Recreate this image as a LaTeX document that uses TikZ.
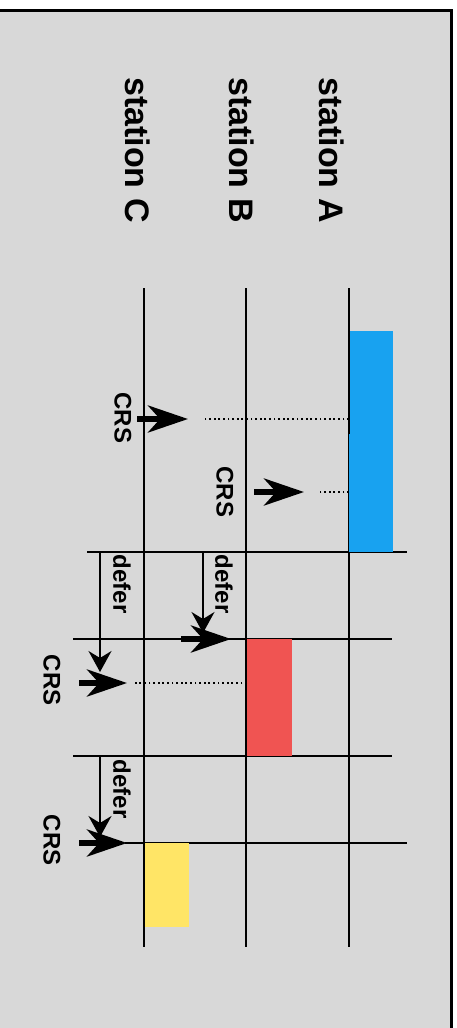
\documentclass[tikz,border=0pt]{standalone}
\usepackage{fontspec}
\setmainfont{Liberation Sans}
\usetikzlibrary{arrows.meta}
\definecolor{panel}{HTML}{D8D8D8}
\definecolor{txblue}{HTML}{18A2F0}
\definecolor{txred}{HTML}{F05452}
\definecolor{txyellow}{HTML}{FFE566}

\begin{document}
\begin{tikzpicture}[x=1pt,y=-1pt,
  lane/.style={line width=2.2pt},
  slot/.style={line width=2.2pt},
  sense/.style={line width=2pt, dash pattern=on 1.8pt off 2.8pt},
  crs/.style={line width=5.5pt, -{Stealth[length=40pt,width=27pt,inset=12pt]}},
  wait/.style={line width=1.8pt, -{Stealth[length=21pt,width=23pt,inset=7pt]}},
  stname/.style={font=\bfseries\fontsize{34}{34}\selectfont, rotate=-90, inner sep=0pt},
  tag/.style={font=\bfseries\fontsize{24}{24}\selectfont, rotate=-90, inner sep=0pt},
]
\clip (0,0) rectangle (457,1028);
\fill[white] (0,0) rectangle (457,1028);
% panel
\filldraw[fill=panel, draw=black, line width=3pt] (-10,10) rectangle (451,1040);

% station labels
\node[stname] (labA) at (332,150) {station A};
\node[stname] (labB) at (242,150) {station B};
\node[stname] (labC) at (138,150) {station C};

% station time lines
\coordinate (Atop) at (349,288); \coordinate (Abot) at (349,947);
\coordinate (Btop) at (246,288); \coordinate (Bbot) at (246,947);
\coordinate (Ctop) at (144,288); \coordinate (Cbot) at (144,947);
\draw[lane] (Atop) -- (Abot);
\draw[lane] (Btop) -- (Bbot);
\draw[lane] (Ctop) -- (Cbot);

% slot boundaries
\coordinate (s1l) at (87,552);  \coordinate (s1r) at (407,552);
\coordinate (s2l) at (73,639);  \coordinate (s2r) at (392,639);
\coordinate (s3l) at (73,756);  \coordinate (s3r) at (392,756);
\coordinate (s4l) at (125,843); \coordinate (s4r) at (407,843);
\draw[slot] (s1l) -- (s1r);
\draw[slot] (s2l) -- (s2r);
\draw[slot] (s3l) -- (s3r);
\draw[slot] (s4l) -- (s4r);

% transmissions
\fill[txblue] (349,331) rectangle (393,552);
\fill[txred] (247,639) rectangle (292,756);
\fill[txyellow] (145,843) rectangle (189,927);
\coordinate (Amid) at (349,434);
\draw[lane] (Atop) -- (Amid);

% carrier sense from A
\coordinate (dA1) at (349,419); \coordinate (dA1e) at (202,419);
\coordinate (dA2) at (349,492); \coordinate (dA2e) at (318,492);
\draw[sense] (dA1) -- (dA1e);
\draw[sense] (dA2) -- (dA2e);
\coordinate (c1s) at (137,419); \coordinate (c1e) at (188,419);
\coordinate (c2s) at (254,492); \coordinate (c2e) at (304,492);
\draw[crs] (c1s) -- (c1e);
\draw[crs] (c2s) -- (c2e);
\node[tag] (crs1) at (123,418) {CRS};
\node[tag] (crs2) at (225,492) {CRS};

% deferrals
\coordinate (w1s) at (100,552); \coordinate (w1e) at (100,672);
\coordinate (w2s) at (203,552); \coordinate (w2e) at (203,633);
\coordinate (w3s) at (100,756); \coordinate (w3e) at (100,837);
\draw[wait] (w1s) -- (w1e);
\draw[wait] (w2s) -- (w2e);
\draw[wait] (w3s) -- (w3e);
\node[tag] (def1) at (122,584) {defer};
\node[tag] (def2) at (224,584) {defer};
\node[tag] (def3) at (122,789) {defer};

% carrier sense after deferral
\coordinate (dB) at (247,683); \coordinate (dBe) at (133,683);
\draw[sense] (dB) -- (dBe);
\coordinate (c3s) at (181,639); \coordinate (c3e) at (231,639);
\coordinate (c4s) at (79,683);  \coordinate (c4e) at (127,683);
\coordinate (c5s) at (79,843);  \coordinate (c5e) at (127,843);
\draw[crs] (c3s) -- (c3e);
\draw[crs] (c4s) -- (c4e);
\draw[crs] (c5s) -- (c5e);
\node[tag] (crs3) at (52,680) {CRS};
\node[tag] (crs4) at (52,840) {CRS};
\end{tikzpicture}
\end{document}
